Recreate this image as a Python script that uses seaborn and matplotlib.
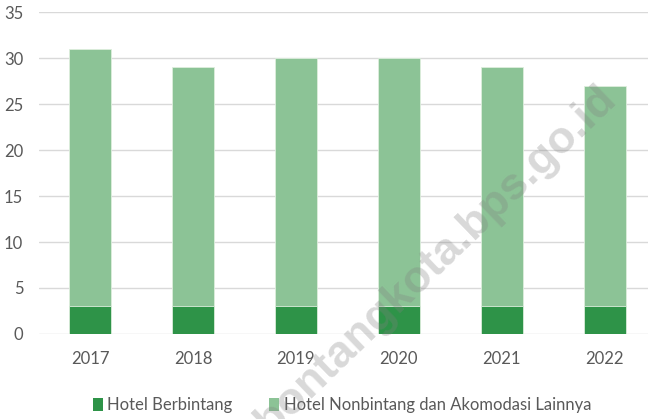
import matplotlib
matplotlib.use("Agg")
import matplotlib.pyplot as plt
import seaborn as sns
import pandas as pd
from matplotlib.patches import Patch

years = ["2017", "2018", "2019", "2020", "2021", "2022"]
berbintang = [3, 3, 3, 3, 3, 3]
nonbintang = [28, 26, 27, 27, 26, 24]
series_names = ["Hotel Berbintang", "Hotel Nonbintang dan Akomodasi Lainnya"]
yticks = [0, 5, 10, 15, 20, 25, 30, 35]

dark = "#2E9348"
light = "#8CC396"
txt = "#595959"

sns.set_theme(style="white")
plt.rcParams["font.family"] = ["Lato", "DejaVu Sans"]

df = pd.DataFrame({
    "year": years,
    "berbintang": berbintang,
    "total": [a + b for a, b in zip(berbintang, nonbintang)],
})

fig = plt.figure(figsize=(6.48, 4.19), dpi=100)
ax = fig.add_axes([0.0595, 0.203, 0.9405, 0.768])

sns.barplot(data=df, x="year", y="total", color=light, saturation=1,
            width=0.41, ax=ax, edgecolor="#DDEEDD", linewidth=0.6, zorder=3)
sns.barplot(data=df, x="year", y="berbintang", color=dark, saturation=1,
            width=0.41, ax=ax, edgecolor="#DDEEDD", linewidth=0.6, zorder=3)

ax.set_ylim(0, 35)
ax.set_xlim(-0.5, 5.42)
ax.set_yticks(yticks)
ax.yaxis.grid(True, color="#D9D9D9", linewidth=1.0, zorder=0)
ax.set_axisbelow(True)
for s in ax.spines.values():
    s.set_visible(False)
ax.set_xlabel("")
ax.set_ylabel("")
ax.tick_params(axis="both", length=0, labelsize=12, labelcolor=txt)
ax.tick_params(axis="y", pad=11)
ax.tick_params(axis="x", pad=12)

handles = [Patch(facecolor=dark, edgecolor="none"), Patch(facecolor=light, edgecolor="none")]
leg = fig.legend(handles, series_names, loc="center", bbox_to_anchor=(0.528, 0.033),
                 ncol=2, frameon=False, fontsize=12, handlelength=0.6, handleheight=0.9,
                 handletextpad=0.25, columnspacing=2.2, borderaxespad=0)
for t in leg.get_texts():
    t.set_color(txt)

fig.text(0.672, 0.378, "bontangkota.bps.go.id", rotation=44, ha="center", va="center",
         fontsize=32.5, fontweight="bold", color="#808080", alpha=0.3,
         family=["Liberation Sans", "DejaVu Sans"], zorder=10)

fig.savefig("out.png", dpi=100)
